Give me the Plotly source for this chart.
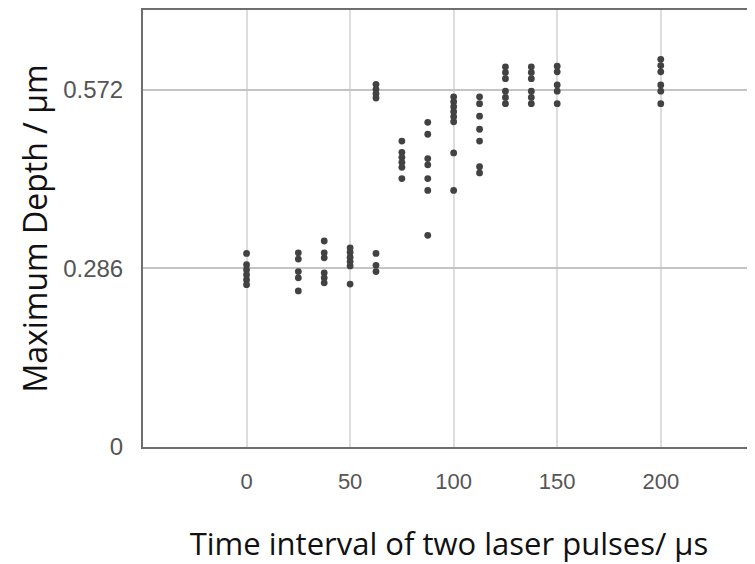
import plotly.graph_objects as go

# Time interval (µs) for each column of measurements
interval_0 = [0.310, 0.292, 0.284, 0.276, 0.268, 0.260]
interval_25 = [0.311, 0.301, 0.281, 0.271, 0.250]
interval_37_5 = [0.330, 0.311, 0.303, 0.279, 0.271, 0.263]
interval_50 = [0.319, 0.312, 0.304, 0.297, 0.290, 0.261]
interval_62_5 = [0.310, 0.291, 0.281, 0.581, 0.573, 0.566, 0.559]
interval_75 = [0.490, 0.472, 0.464, 0.456, 0.448, 0.430]
interval_87_5 = [0.520, 0.501, 0.462, 0.452, 0.430, 0.411, 0.339]
interval_100 = [0.561, 0.553, 0.545, 0.537, 0.529, 0.521, 0.471, 0.411]
interval_112_5 = [0.561, 0.550, 0.530, 0.509, 0.490, 0.449, 0.439]
interval_125 = [0.609, 0.600, 0.590, 0.570, 0.560, 0.550]
interval_137_5 = [0.609, 0.600, 0.590, 0.570, 0.560, 0.550]
interval_150 = [0.610, 0.601, 0.580, 0.570, 0.550]
interval_200 = [0.621, 0.611, 0.601, 0.580, 0.570, 0.550]

intervals = [0, 25, 37.5, 50, 62.5, 75, 87.5, 100, 112.5, 125, 137.5, 150, 200]
depths = [interval_0, interval_25, interval_37_5, interval_50, interval_62_5,
          interval_75, interval_87_5, interval_100, interval_112_5,
          interval_125, interval_137_5, interval_150, interval_200]

x_ticks = [0, 50, 100, 150, 200]
y_ticks = [0, 0.286, 0.572]
y_tick_labels = ["0", "0.286", "0.572"]

xs, ys = [], []
for t, vals in zip(intervals, depths):
    for v in vals:
        xs.append(t)
        ys.append(v)

fig = go.Figure(go.Scatter(
    x=xs, y=ys, mode="markers",
    marker=dict(color="#424242", size=6.8, line=dict(width=0)),
    showlegend=False,
))

fig.update_layout(
    width=747, height=556,
    margin=dict(l=135, r=0, t=0, b=117),
    paper_bgcolor="white", plot_bgcolor="white",
    font=dict(family="Liberation Sans, Arial, sans-serif", color="#555555", size=23),
)
fig.update_xaxes(
    range=[-50, 245.5], tickvals=x_ticks, ticks="",
    showgrid=True, gridcolor="#dddddd", gridwidth=1.5,
    showline=True, linecolor="#6e6e6e", linewidth=2, mirror=True,
    zeroline=False, ticklabelstandoff=14,
    tickfont=dict(size=22, color="#555555"),
    title=dict(text="Time interval of two laser pulses/ μs",
               font=dict(family="Open Sans, sans-serif", size=31, color="#111111"),
               standoff=40),
)
fig.update_yaxes(
    range=[0, 0.7], tickvals=y_ticks, ticktext=y_tick_labels, ticks="",
    showgrid=True, gridcolor="#c4c4c4", gridwidth=2,
    showline=True, linecolor="#6e6e6e", linewidth=2, mirror=False,
    zeroline=False, ticklabelstandoff=13,
    tickfont=dict(size=24, color="#555555"),
    title=dict(text="Maximum Depth / μm",
               font=dict(family="Open Sans, sans-serif", size=32, color="#111111"),
               standoff=6),
)

fig.write_html("out.html")
